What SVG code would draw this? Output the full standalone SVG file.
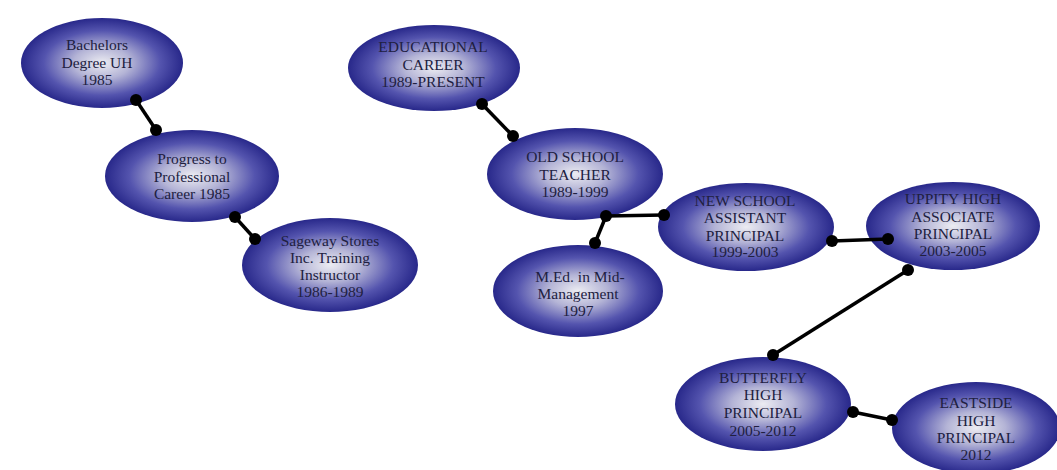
<svg xmlns="http://www.w3.org/2000/svg" width="1057" height="470" viewBox="0 0 1057 470">
<defs>
<radialGradient id="g" cx="50%" cy="50%" r="50%">
<stop offset="0" stop-color="#ececf2"/>
<stop offset="0.35" stop-color="#b4b4d6"/>
<stop offset="0.72" stop-color="#5454ae"/>
<stop offset="1" stop-color="#28288a"/>
</radialGradient>
<style>
.n ellipse{fill:url(#g);}
.n text{font-family:'Liberation Serif','Tinos','DejaVu Serif','Noto Serif',serif;font-size:15.5px;fill:#202040;text-anchor:middle;}
.c line{stroke:#000;stroke-width:3.5;}
.c circle{fill:#000;}
</style>
</defs>
<rect width="1057" height="470" fill="#fff"/>
<g id="bachelors" class="n"><ellipse cx="102" cy="63" rx="81" ry="45"/>
<text x="97" y="50">Bachelors</text><text x="97" y="67.5">Degree UH</text><text x="97" y="85">1985</text></g>
<g id="progress" class="n"><ellipse cx="192" cy="176" rx="87" ry="46"/>
<text x="192" y="164">Progress to</text><text x="192" y="182">Professional</text><text x="192" y="199">Career 1985</text></g>
<g id="sageway" class="n"><ellipse cx="330" cy="265" rx="88" ry="47"/>
<text x="330" y="246">Sageway Stores</text><text x="330" y="263">Inc. Training</text><text x="330" y="280">Instructor</text><text x="330" y="297">1986-1989</text></g>
<g id="educational" class="n"><ellipse cx="434" cy="68" rx="86" ry="43"/>
<text x="433" y="52">EDUCATIONAL</text><text x="433" y="70">CAREER</text><text x="433" y="87">1989-PRESENT</text></g>
<g id="oldschool" class="n"><ellipse cx="575" cy="174" rx="88" ry="46"/>
<text x="575" y="162">OLD SCHOOL</text><text x="575" y="180">TEACHER</text><text x="575" y="197">1989-1999</text></g>
<g id="med" class="n"><ellipse cx="578" cy="291" rx="85" ry="46"/>
<text x="580" y="282">M.Ed. in Mid-</text><text x="578" y="299">Management</text><text x="578" y="316">1997</text></g>
<g id="newschool" class="n"><ellipse cx="746" cy="227" rx="88" ry="44"/>
<text x="745" y="206">NEW SCHOOL</text><text x="745" y="223">ASSISTANT</text><text x="745" y="241">PRINCIPAL</text><text x="745" y="257">1999-2003</text></g>
<g id="uppity" class="n"><ellipse cx="953" cy="226" rx="87" ry="44"/>
<text x="953" y="204">UPPITY HIGH</text><text x="953" y="222">ASSOCIATE</text><text x="953" y="239">PRINCIPAL</text><text x="953" y="256">2003-2005</text></g>
<g id="butterfly" class="n"><ellipse cx="763" cy="404" rx="88" ry="47"/>
<text x="763" y="383">BUTTERFLY</text><text x="763" y="400">HIGH</text><text x="763" y="418">PRINCIPAL</text><text x="763" y="436">2005-2012</text></g>
<g id="eastside" class="n"><ellipse cx="976" cy="428" rx="84" ry="46"/>
<text x="976" y="408">EASTSIDE</text><text x="976" y="426">HIGH</text><text x="976" y="443">PRINCIPAL</text><text x="976" y="460">2012</text></g>
<g id="connectors" class="c">
<line x1="136" y1="100" x2="156" y2="130"/><circle cx="136" cy="100" r="6"/><circle cx="156" cy="130" r="6"/>
<line x1="235" y1="217" x2="255" y2="239"/><circle cx="235" cy="217" r="6"/><circle cx="255" cy="239" r="6"/>
<line x1="482" y1="104" x2="513" y2="136"/><circle cx="482" cy="104" r="6"/><circle cx="513" cy="136" r="6"/>
<line x1="606" y1="216" x2="664" y2="215"/><circle cx="606" cy="216" r="6"/><circle cx="664" cy="215" r="6"/>
<line x1="606" y1="216" x2="595" y2="243"/><circle cx="595" cy="243" r="6"/>
<line x1="832" y1="241" x2="888" y2="239"/><circle cx="832" cy="241" r="6"/><circle cx="888" cy="239" r="6"/>
<line x1="908" y1="270" x2="773" y2="355"/><circle cx="908" cy="270" r="6"/><circle cx="773" cy="355" r="6"/>
<line x1="853" y1="412" x2="892" y2="420"/><circle cx="853" cy="412" r="6"/><circle cx="892" cy="420" r="6"/>
</g>
</svg>
